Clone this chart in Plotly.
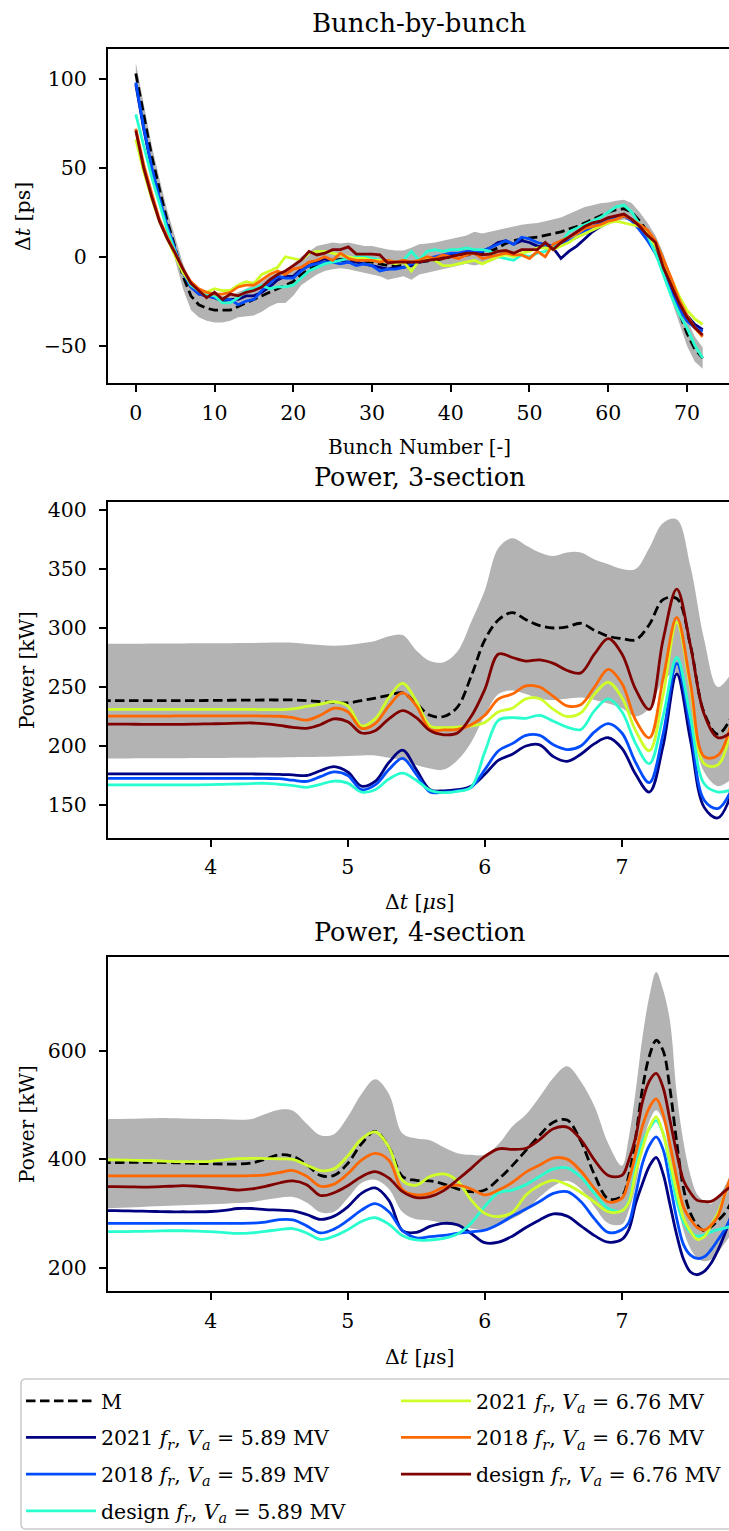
import plotly.graph_objects as go

FONT = "DejaVu Serif"
W, H = 729, 1531

# ---------------- Panel 1: bunch-by-bunch ----------------
bunch = list(range(73))
bb_M = [103, 80, 57, 38, 20, 5, -11, -22, -27, -29, -30, -30, -30, -28, -26, -24, -22, -20, -18, -16,
        -14, -10, -7, -5, -3, -2, -1.5, -1.5, -2, -2.5, -3, -4, -5, -5, -4.5, -4, -3, -2.5, -2, -1,
        0, 0.5, 1, 1.5, 2, 3, 5, 7.5, 9, 10, 10.5, 11, 12, 13, 14, 15.5, 17, 19, 21, 23,
        25, 26.5, 27, 25, 20, 14, 6, -4, -18, -31, -43, -52, -57]
bb_up = [109, 86, 63, 44, 26, 11, -4, -14, -19, -21, -22, -22, -22, -20, -18, -16, -14, -11, -9, -8,
         -4, 0, 3, 6, 7, 8, 7.5, 8, 7, 6, 6, 5, 4, 3.5, 3.5, 5, 7, 7.5, 8, 9,
         10, 11, 12, 14, 13, 14, 15, 16, 17, 18, 18.5, 19, 20, 21, 22, 24, 26, 28, 29, 30,
         30.5, 31.5, 32, 30, 25, 19, 12, 2, -11, -24, -35, -45, -51]
bb_lo = [97, 74, 51, 32, 14, -2, -18, -30, -34, -36, -37, -37, -36, -34, -33.5, -33, -31, -28, -26, -26,
         -22, -16, -13, -10, -8, -7, -6.5, -7, -8, -9, -10, -11, -13, -12, -11, -13, -10, -9, -8, -7,
         -6, -5, -4, -5, -4, -3, -1, 1, 2, 3, 4, 4.5, 5, 6, 7, 8.5, 10, 12, 14, 16,
         18, 20, 21, 20, 14, 8, 0, -10, -24, -37, -50, -59, -63]
bb_2021_589 = [97, 72, 50, 32, 16, 3, -9, -17, -21, -22, -23, -25, -24, -24, -22, -22, -20, -17, -13, -11,
               -11, -7, -5, -3, -1, -2, -2, -3, -3, -4, -5, -6, -7, -6, -6, -5, -3, -2, -1, 0,
               1, 1.5, 2, 2, 3, 5, 8, 9, 7, 9, 8, 6, 5, 5, -1, 3, 6, 10, 14, 17,
               20, 22, 23, 21, 17, 12, 6, -4, -16, -26, -33, -38, -41]
bb_2018_589 = [98, 73, 51, 33, 17, 4, -9, -17, -21, -22, -23, -24, -24, -27, -25, -24, -19, -15, -11, -12,
               -12, -8, -5, -4, -3, -3, -4, -3, -5, -4, -5, -8, -7, -7, -6, -4, -3, -1, 0, 1,
               2, 2, 3, 3, 3, 5, 7, 9, 7, 11, 10, 8, 7, 6, 7, 9, 11, 14, 17, 19,
               21, 22, 23, 20, 15, 9, 2, -8, -20, -29, -36, -40, -42]
bb_des_589 = [80, 62, 45, 30, 15, 3, -8, -16, -19, -21, -22, -26, -26, -23, -19, -18, -16, -18, -17, -17,
              -16, -12, -8, -6, -4, -3, -2, -1, 0, 0, -1, -2, -3, -3, -2, 3, -2, 3, 4, 3,
              4, 4, 5, 4, 4, 3, 0, -1, -2, 1, 0, 2, 3, 5, 8, 14, 16, 18, 20, 22,
              25, 28, 29, 25, 18, 12, 2, -10, -22, -32, -40, -50, -57]
bb_2021_676 = [66, 48, 33, 20, 10, 0, -9, -15, -19, -20, -18, -19, -19, -16, -14, -15, -10, -8, -6, 0,
               -1, -2, 2, 3, 3, 2, 1, 0, -1, -1, -2, -2, -3, -4, -3, -8, -2, -1, -2, -5,
               -5, -4, -3, -2, -4, -2, 0, 1, 0, 2, 3, 5, 5, 4, 6, 8, 11, 13, 15, 17,
               19, 20, 19, 18, 17, 13, 6, -3, -13, -22, -30, -35, -38]
bb_2018_676 = [72, 52, 36, 21, 11, 2, -7, -14, -18, -20, -21, -21, -20, -17, -16, -16, -13, -10, -8, -10,
               -7, -6, -3, -2, 0, -2, 2, -1, -2, -2, -2, -3, -2, -3, -2, -3, -2, 0, -1, 1,
               0, -1, 1, 2, -1, 0, 1, 2, 1, 1, -1, 3, 0, 7, 9, 11, 13, 16, 17, 18,
               20, 21, 23, 21, 18, 15, 9, -1, -12, -24, -33, -40, -45]
bb_des_676 = [71, 50, 34, 20, 10, 2, -7, -15, -19, -23, -20, -24, -21, -22, -20, -19, -17, -13, -10, -8,
              -5, -2, 3, 1, 2, 4, 4, 5.5, 1.5, 1.5, 1.5, 1, -3.5, -3, -3, -3, -3, -2, -1.5, -1,
              0, 1, 2, 2, 1, 1.5, 3, 3.5, 2, 4, 4, 4, 8, 4, 8, 11, 14, 17, 19, 20,
              22, 23, 24, 21, 17, 12, 8, -6, -16, -26, -34, -40, -44]

# ---------------- Panel 2: power, 3-section ----------------
t3 = [3.2, 3.3, 3.4, 3.5, 3.6, 3.7, 3.8, 3.9, 4.0, 4.1, 4.2, 4.3, 4.4, 4.5, 4.6, 4.7, 4.8, 4.9, 5.0, 5.1,
      5.2, 5.3, 5.4, 5.5, 5.6, 5.7, 5.8, 5.9, 6.0, 6.1, 6.2, 6.3, 6.4, 6.5, 6.6, 6.7, 6.8, 6.9, 7.0, 7.1,
      7.2, 7.3, 7.4, 7.5, 7.6, 7.7, 7.8]
p3_M = [238.4, 238.4, 238.4, 238.4, 238.4, 238.5, 238.5, 238.5, 238.6, 238.7,
        238.8, 238.9, 239.0, 239.0, 239.0, 238.5, 237.5, 237.0, 236.5, 238.5,
        240.5, 243.0, 245.0, 236.0, 226.0, 225.0, 233.0, 259.0, 290.0, 307.0,
        313, 307, 302, 300, 301, 304, 298, 293, 291, 290,
        303, 324, 325, 285, 228, 210, 225]
p3_up = [286.5, 286.6, 286.7, 286.7, 286.8, 286.8, 286.9, 287.0, 287.0, 287.0,
         287.2, 287.3, 287.5, 287.6, 287.5, 286.5, 285.5, 285.0, 285.5, 287.0,
         289, 293, 294, 281, 272, 271, 280, 305, 332, 368,
         376, 370, 364, 361, 364, 364, 358, 354, 350, 350,
         368, 389, 392, 352, 290, 250, 262]
p3_lo = [189.5, 189.5, 189.5, 189.6, 189.6, 189.7, 189.7, 189.8, 189.8, 189.9,
         190, 190, 190.2, 190.3, 190.5, 190.6, 190.8, 191, 191.5, 192,
         192, 190, 188, 184, 181, 180, 188, 203, 226, 244,
         247, 244, 240, 239, 240, 241, 239, 236, 232, 225,
         232, 255, 262, 218, 178, 166, 172]
p3_2021_589 = [176.3] * 10 + [176.3, 176.3, 176.2, 176.0, 175.5, 175.0, 179.0, 182.5, 178.0, 166.0,
                              170, 186, 196.5, 180, 163, 162, 163, 166, 176, 188,
                              193, 200, 201, 191, 187, 193, 202, 207, 198, 176,
                              161, 200, 261, 205, 148, 139, 160]
p3_2018_589 = [172.6] * 10 + [172.6, 172.6, 172.5, 172.3, 171.0, 170.0, 174.0, 178.0, 175.0, 163.0,
                              167, 180, 189.5, 176, 161, 161, 162, 165, 180, 196,
                              202, 209, 209, 201, 197, 200, 212, 219, 211, 186,
                              169, 210, 270, 215, 154, 147, 163]
p3_des_589 = [167, 167, 167, 167, 167, 167, 167, 167, 167.2, 167.5,
              167.8, 168.2, 168.4, 167.5, 166.5, 165, 167.5, 170.3, 168.5, 161,
              163, 172, 177, 171, 162.5, 160.5, 161.5, 165, 195, 222,
              224, 223.5, 226, 221, 216, 214, 230, 240, 229, 202,
              185, 225, 275, 224, 168, 161, 163]
p3_2021_676 = [231.0] * 10 + [231.0, 231.0, 230.8, 230.8, 231.5, 233.5, 235.5, 237.5, 234.0, 217.0,
                              223, 241, 253, 238, 217, 215.5, 216, 217, 220, 229,
                              232, 240, 240, 231, 225, 228, 244, 254, 241, 213,
                              196, 243, 305, 250, 185, 184, 218]
p3_2018_676 = [225.4, 225.4, 225.4, 225.4, 225.4, 225.4, 225.5, 225.5, 225.5, 225.5,
               225.5, 225.5, 225.4, 225.2, 224.0, 222.0, 226.0, 232.0, 229.0, 215.0,
               219, 234, 245, 234, 214, 213.6, 214, 218, 226, 240,
               244, 251, 250, 242, 234, 235, 250, 265, 253, 222,
               207, 257, 309, 253, 191, 192, 221]
p3_des_676 = [218.6, 218.6, 218.5, 218.4, 218.3, 218.3, 218.4, 218.6, 218.8, 219.0,
              219.3, 219.5, 218.8, 217.5, 215.8, 215.0, 218.0, 223.0, 220.5, 211.0,
              213, 223, 230, 224, 213, 209.5, 211, 225, 248, 278,
              275, 272, 273, 270, 264, 262, 278, 291, 278, 248,
              231, 290, 333, 285, 227, 207, 212]

# ---------------- Panel 3: power, 4-section ----------------
t4 = [3.2, 3.3, 3.4, 3.5, 3.6, 3.7, 3.8, 3.9, 4.0, 4.1, 4.2, 4.3, 4.4, 4.5, 4.6, 4.7, 4.8, 4.9, 5.0, 5.1,
      5.2, 5.3, 5.4, 5.5, 5.6, 5.7, 5.8, 5.9, 6.0, 6.1, 6.2, 6.3, 6.4, 6.5, 6.6, 6.7, 6.8, 6.9, 7.0,
      7.05, 7.1, 7.15, 7.2, 7.25, 7.3, 7.35, 7.4, 7.45, 7.5, 7.55, 7.6, 7.65, 7.7, 7.75, 7.8]
p4_M = [393.5, 393.6, 394, 394, 394, 393.5, 393, 392, 391.5, 391,
        391, 393, 400, 408, 405, 390, 370, 370, 392, 428,
        451, 422, 368, 361, 360, 354, 345, 340, 343, 363,
        388, 416, 444, 468, 472, 433, 371, 327, 332,
        370, 440, 530, 590, 619, 600, 530, 430, 345, 300, 278, 268, 275, 287, 300, 322]
p4_up = [474, 474, 474.5, 475, 475.5, 475.5, 475, 474.5, 474, 473.5,
         472.5, 474, 483, 491, 489, 465, 444, 446, 478, 520,
         547, 520, 447, 438, 435, 422, 411, 408, 408, 428,
         460, 482, 515, 550, 571, 543, 497, 429, 388,
         440, 525, 625, 700, 745, 712, 655, 520, 430, 370, 335, 323, 318, 330, 350, 375]
p4_lo = [309, 310, 311, 312, 313, 314, 315, 316, 317, 318,
         319, 321, 325, 329, 330, 320, 302, 303, 328, 356,
         362, 345, 302, 289, 287, 282, 276, 272, 270, 278,
         290, 305, 330, 350, 360, 345, 312, 282, 280,
         305, 350, 420, 470, 490, 470, 400, 320, 268, 235, 218, 212, 215, 228, 245, 262]
p4_2021_589 = [305, 305, 304.5, 304, 303.5, 303, 303, 303, 303.5, 305.5,
               309, 309, 307, 306, 304.5, 298, 289, 295, 312, 337,
               347, 324, 268, 265, 276, 281.7, 279, 263, 246, 247,
               258, 274, 288, 299, 295, 277, 259, 247, 252,
               270, 318, 355, 387, 403, 373, 317, 260, 215, 192, 187, 193, 208, 232, 262, 298]
p4_2018_589 = [281.7] * 10 + [281.7, 282, 284, 288.5, 288, 277, 264, 271, 287, 306,
                              318, 303, 268, 255, 257, 259.5, 263, 266, 269, 280,
                              295, 308, 322, 337, 340, 322, 290, 265, 270,
                              283, 335, 392, 425, 441, 418, 356, 290, 242, 223, 217, 220, 233, 251, 270, 296]
p4_des_589 = [266.4, 266.5, 266.5, 267, 267.5, 268, 268, 267.5, 266.5, 264.5,
              263, 264, 267, 270, 272, 264, 252, 258, 270, 285,
              292, 280, 259, 251, 251, 254, 262, 282, 313, 338,
              343, 353, 368, 382, 384, 367, 337, 309, 305,
              322, 384, 432, 456, 471, 448, 385, 322, 283, 265, 258, 260, 266, 270, 273, 277]
p4_2021_676 = [398.5, 398.5, 398, 397.5, 397, 396, 395.5, 395.5, 396, 398.5,
               401, 401.5, 401, 400.5, 399.5, 389, 379, 382, 406, 437,
               450, 422, 360, 352, 368, 372.7, 360, 325, 300, 294,
               302, 334, 352, 361, 353, 339, 321, 303, 305,
               320, 375, 420, 458, 478, 447, 396, 340, 291, 267, 252, 257, 278, 300, 335, 370]
p4_2018_676 = [369] * 10 + [369, 369.5, 371, 375, 379, 368.5, 350, 354, 373, 398,
                            410.7, 398, 343, 334, 337, 348, 352, 345, 334, 343,
                            357, 376, 389, 402, 400, 378, 346, 321, 328,
                            361, 410, 461, 495, 511, 483, 428, 365, 311, 289, 274, 269.4, 278, 295, 335, 372]
p4_des_676 = [349.3, 349.3, 349, 348.5, 349, 350, 351, 350, 348, 345.5,
              343, 345, 350, 356, 360, 353, 333, 338, 351, 367.7,
              377, 365, 340, 329, 331, 342, 362, 383, 405, 419,
              418, 420, 436, 456, 459, 436, 398, 370, 370,
              398, 440, 506, 544, 558, 532, 472, 411, 360, 338, 324, 322, 322, 330, 341, 350]

# ---------------- series metadata ----------------
names = ["2021 <i>f</i><sub><i>r</i></sub>, <i>V</i><sub><i>a</i></sub> = 5.89 MV",
         "2018 <i>f</i><sub><i>r</i></sub>, <i>V</i><sub><i>a</i></sub> = 5.89 MV",
         "design <i>f</i><sub><i>r</i></sub>, <i>V</i><sub><i>a</i></sub> = 5.89 MV",
         "2021 <i>f</i><sub><i>r</i></sub>, <i>V</i><sub><i>a</i></sub> = 6.76 MV",
         "2018 <i>f</i><sub><i>r</i></sub>, <i>V</i><sub><i>a</i></sub> = 6.76 MV",
         "design <i>f</i><sub><i>r</i></sub>, <i>V</i><sub><i>a</i></sub> = 6.76 MV"]
colors = ["#000080", "#004cff", "#29ffce", "#ceff29", "#ff6800", "#800000"]
legend_of = ["legend", "legend", "legend", "legend2", "legend2", "legend2"]

panels = [
    (bunch, bb_M, bb_up, bb_lo, [bb_2021_589, bb_2018_589, bb_des_589, bb_2021_676, bb_2018_676, bb_des_676], "x", "y", "linear"),
    (t3, p3_M, p3_up, p3_lo, [p3_2021_589, p3_2018_589, p3_des_589, p3_2021_676, p3_2018_676, p3_des_676], "x2", "y2", "spline"),
    (t4, p4_M, p4_up, p4_lo, [p4_2021_589, p4_2018_589, p4_des_589, p4_2021_676, p4_2018_676, p4_des_676], "x3", "y3", "spline"),
]

fig = go.Figure()
LW = 2.8
for pi, (xs, M, up, lo, series, xa, ya, shp) in enumerate(panels):
    first = pi == 0
    fig.add_trace(go.Scatter(x=xs, y=lo, mode="lines", line=dict(width=0, color="#b3b3b3", shape=shp),
                             xaxis=xa, yaxis=ya, showlegend=False, hoverinfo="skip"))
    fig.add_trace(go.Scatter(x=xs, y=up, mode="lines", line=dict(width=0, color="#b3b3b3", shape=shp),
                             fill="tonexty", fillcolor="#b3b3b3",
                             xaxis=xa, yaxis=ya, showlegend=False, hoverinfo="skip"))
    fig.add_trace(go.Scatter(x=xs, y=M, mode="lines", name="M", legendgroup="M", legend="legend",
                             line=dict(color="black", width=LW, dash="9.5px,4.5px", shape=shp),
                             xaxis=xa, yaxis=ya, showlegend=first))
    for k, vals in enumerate(series):
        fig.add_trace(go.Scatter(x=xs, y=vals, mode="lines", name=names[k], legendgroup="g%d" % k,
                                 legend=legend_of[k],
                                 line=dict(color=colors[k], width=LW, shape=shp),
                                 xaxis=xa, yaxis=ya, showlegend=first))


def py(p):
    return 1 - p / H


common = dict(showline=True, linecolor="black", linewidth=2, ticks="outside", ticklen=7, tickwidth=1.6,
              tickcolor="black", showgrid=False, zeroline=False, automargin=False,
              tickfont=dict(family=FONT, size=20.5, color="black"))
xdom = [108 / W, 1]

fig.update_layout(
    width=W, height=H, margin=dict(l=0, r=0, t=0, b=0),
    paper_bgcolor="white", plot_bgcolor="white",
    font=dict(family=FONT, color="black"),
    xaxis=dict(domain=xdom, range=[-3.53, 75.34], tickvals=[0, 10, 20, 30, 40, 50, 60, 70], anchor="y",
               mirror=True, ticklabelstandoff=3, **common),
    yaxis=dict(domain=[py(383), py(49)], range=[-71.0, 116.8], tickvals=[-50, 0, 50, 100], anchor="x",
               ticklabelstandoff=8, **common),
    xaxis2=dict(domain=xdom, range=[3.251, 7.781], tickvals=[4, 5, 6, 7], anchor="y2", mirror=True,
                ticklabelstandoff=3, **common),
    yaxis2=dict(domain=[py(837.7), py(502.3)], range=[122.3, 406.5], tickvals=[150, 200, 250, 300, 350, 400],
                anchor="x2", ticklabelstandoff=8, **common),
    xaxis3=dict(domain=xdom, range=[3.251, 7.781], tickvals=[4, 5, 6, 7], anchor="y3", mirror=True,
                ticklabelstandoff=3, **common),
    yaxis3=dict(domain=[py(1291), py(956.7)], range=[157, 773], tickvals=[200, 400, 600], anchor="x3",
                ticklabelstandoff=8, **common),
    legend=dict(x=21 / W, y=py(1381), xanchor="left", yanchor="top", bgcolor="rgba(0,0,0,0)", borderwidth=0,
                font=dict(family=FONT, size=20.5, color="black"), tracegroupgap=7, itemwidth=70,
                orientation="v"),
    legend2=dict(x=396 / W, y=py(1381), xanchor="left", yanchor="top", bgcolor="rgba(0,0,0,0)", borderwidth=0,
                 font=dict(family=FONT, size=20.5, color="black"), tracegroupgap=7, itemwidth=70,
                 orientation="v"),
    showlegend=True,
)

ann = []
def add_text(text, x, y, size, angle=0):
    ann.append(dict(text=text, x=x / W, y=py(y), xref="paper", yref="paper", showarrow=False,
                    xanchor="center", yanchor="middle", textangle=angle,
                    font=dict(family=FONT, size=size, color="black")))

add_text("Bunch-by-bunch", 419, 23, 26)
add_text("Power, 3-section", 419, 477, 25.5)
add_text("Power, 4-section", 419, 932, 25.5)
add_text("Bunch Number [-]", 419, 447, 20)
add_text("Δ<i>t</i> [<i>μ</i>s]", 419, 902, 20.5)
add_text("Δ<i>t</i> [<i>μ</i>s]", 419, 1357, 20.5)
add_text("Δ<i>t</i> [ps]", 23, 216, 20.5, -90)
add_text("Power [kW]", 27, 670, 20, -90)
add_text("Power [kW]", 27, 1124, 20, -90)
fig.update_layout(annotations=ann)

# legend frame (rounded box, extends past the right edge like the reference)
x0, x1, y0, y1, r = 21 / W, 760 / W, py(1379), py(1529), 5
rx, ry = r / W, r / H
path = (f"M {x0 + rx},{y0} L {x1 - rx},{y0} Q {x1},{y0} {x1},{y0 - ry} L {x1},{y1 + ry} "
        f"Q {x1},{y1} {x1 - rx},{y1} L {x0 + rx},{y1} Q {x0},{y1} {x0},{y1 + ry} L {x0},{y0 - ry} "
        f"Q {x0},{y0} {x0 + rx},{y0} Z")
fig.add_shape(type="path", path=path, xref="paper", yref="paper",
              line=dict(color="#cccccc", width=1.6), fillcolor="rgba(255,255,255,0.8)", layer="below")

fig.write_html("out.html")
